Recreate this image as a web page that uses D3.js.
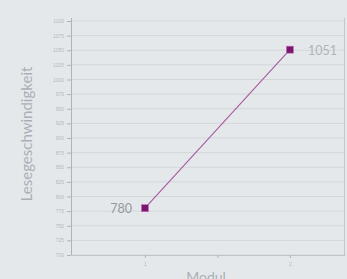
<!DOCTYPE html>
<html>
<head>
<meta charset="utf-8">
<script src="https://cdn.jsdelivr.net/npm/d3@7"></script>
<style>
  body { margin: 0; background: #e5e8eb; }
  svg { display: block; font-family: Lato, "Open Sans", sans-serif; }
</style>
</head>
<body>
<svg id="chart"></svg>
<script>
const modules = [1, 2];
const speeds = [780, 1051];
const yTicks = [700, 725, 750, 775, 800, 825, 850, 875, 900, 925, 950, 975, 1000, 1025, 1050, 1075, 1100];
const xTicks = [1, 1.5, 2];

const width = 347, height = 279;
const svg = d3.select("#chart").attr("width", width).attr("height", height);

svg.append("rect").attr("width", width).attr("height", height).attr("fill", "#e5e8eb");

const x = d3.scaleLinear().domain([0.49, 2.38]).range([71, 345]);
const y = d3.scaleLinear().domain([700, 1100]).range([255, 21]);

// grid
svg.append("g")
    .selectAll("line")
    .data(yTicks)
    .join("line")
    .attr("x1", x.range()[0])
    .attr("x2", x.range()[1])
    .attr("y1", d => y(d))
    .attr("y2", d => y(d))
    .attr("stroke", "#d3d7da")
    .attr("stroke-width", 1);

// right border
svg.append("line")
    .attr("x1", 344.5).attr("x2", 344.5)
    .attr("y1", 18).attr("y2", y(700))
    .attr("stroke", "#c4c8cc");

// y axis
const yAxis = svg.append("g")
    .attr("transform", `translate(${x.range()[0]},0)`)
    .call(d3.axisLeft(y).tickValues(yTicks).tickSize(4).tickSizeOuter(0).tickPadding(3)
        .tickFormat(d3.format("d")));
yAxis.select(".domain").attr("stroke", "#aeb3b7").attr("d", `M0.5,${y(700)}V18`);
yAxis.selectAll(".tick line").attr("stroke", "#aeb3b7");
yAxis.selectAll(".tick text").attr("fill", "#b3b8bc").style("font-size", "5px");

// x axis
const xAxis = svg.append("g")
    .attr("transform", `translate(0,${y(700)})`)
    .call(d3.axisBottom(x).tickValues(xTicks).tickSize(3).tickSizeOuter(0).tickPadding(4)
        .tickFormat(d => Number.isInteger(d) ? d : ""));
xAxis.select(".domain").attr("stroke", "#c0c4c8");
xAxis.selectAll(".tick line").attr("stroke", "#b0b4b8");
xAxis.selectAll(".tick text").attr("fill", "#b3b8bc").style("font-size", "5px");

// line
const pts = modules.map((m, i) => [m, speeds[i]]);
svg.append("path")
    .datum(pts)
    .attr("fill", "none")
    .attr("stroke", "#a65aa0")
    .attr("stroke-width", 1.1)
    .attr("d", d3.line().x(d => x(d[0])).y(d => y(d[1])));

// markers
svg.append("g")
    .selectAll("rect")
    .data(pts)
    .join("rect")
    .attr("x", d => x(d[0]) - 3.5)
    .attr("y", d => y(d[1]) - 3.5)
    .attr("width", 7)
    .attr("height", 7)
    .attr("fill", "#7c1570")
    .attr("stroke", "#c46bb8")
    .attr("stroke-width", 0.6);

// value labels
svg.append("g")
    .selectAll("text")
    .data(pts)
    .join("text")
    .attr("x", (d, i) => i === 0 ? x(d[0]) - 13 : x(d[0]) + 18)
    .attr("y", d => y(d[1]) + 5)
    .attr("text-anchor", (d, i) => i === 0 ? "end" : "start")
    .attr("fill", (d, i) => i === 0 ? "#94989c" : "#b0b4b8")
    .style("font-size", "12.5px")
    .text(d => d[1]);

// axis titles
svg.append("text")
    .attr("transform", `translate(32,134) rotate(-90)`)
    .attr("text-anchor", "middle")
    .attr("fill", "#aab0b5")
    .style("font-size", "15px")
    .text("Lesegeschwindigkeit");

svg.append("text")
    .attr("x", 206)
    .attr("y", 282)
    .attr("text-anchor", "middle")
    .attr("fill", "#aab0b5")
    .style("font-size", "14px")
    .text("Modul");
</script>
</body>
</html>
